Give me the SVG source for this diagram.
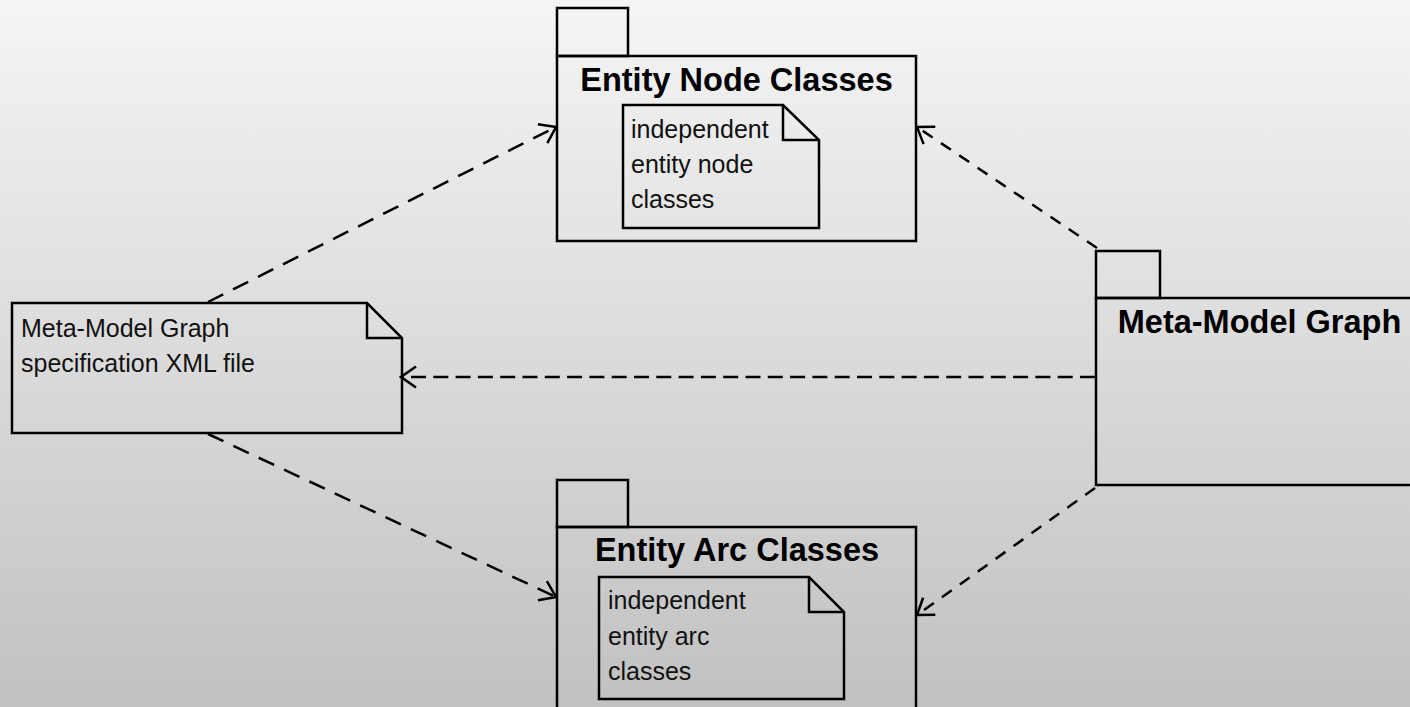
<svg xmlns="http://www.w3.org/2000/svg" width="1410" height="707" viewBox="0 0 1410 707">
  <defs>
    <linearGradient id="bg" x1="0" y1="0" x2="0" y2="1">
      <stop offset="0" stop-color="#f5f5f5"/>
      <stop offset="1" stop-color="#c1c1c1"/>
    </linearGradient>
    <marker id="open" markerUnits="userSpaceOnUse" viewBox="-18 -12 20 24" refX="0" refY="0" markerWidth="20" markerHeight="24" orient="auto">
      <path d="M-15,-10.5 L0,0 L-15,10.5" fill="none" stroke="#000" stroke-width="2.5"/>
    </marker>
    <style>
      .box { fill: none; stroke: #000; stroke-width: 2.5; }
      .dep { fill: none; stroke: #000; stroke-width: 2.5; marker-end: url(#open); }
      .title { font-family: "Liberation Sans", Arial, sans-serif; font-weight: bold; font-size: 32.5px; fill: #000; text-anchor: middle; }
      .body { font-family: "Liberation Sans", Arial, sans-serif; font-size: 25px; fill: #111; }
    </style>
  </defs>

  <rect x="0" y="0" width="1410" height="707" fill="url(#bg)"/>

  <!-- package: Entity Node Classes -->
  <g id="pkg-entity-node">
    <rect class="box" x="557" y="8" width="71" height="48"/>
    <rect class="box" x="557" y="56" width="359" height="185"/>
    <text class="title" x="736.5" y="91">Entity Node Classes</text>
    <g id="note-entity-node">
      <path class="box" d="M623,105 H783 L819,140 V228 H623 Z"/>
      <path class="box" d="M783,105 V140 H819"/>
      <text class="body" x="631" y="138">independent</text>
      <text class="body" x="631" y="173">entity node</text>
      <text class="body" x="631" y="208">classes</text>
    </g>
  </g>

  <!-- package: Entity Arc Classes -->
  <g id="pkg-entity-arc">
    <rect class="box" x="557" y="480" width="71" height="47"/>
    <rect class="box" x="557" y="527" width="359" height="200"/>
    <text class="title" x="737" y="561">Entity Arc Classes</text>
    <g id="note-entity-arc">
      <path class="box" d="M599,577 H809 L844,612 V699 H599 Z"/>
      <path class="box" d="M809,577 V612 H844"/>
      <text class="body" x="608" y="609">independent</text>
      <text class="body" x="608" y="645">entity arc</text>
      <text class="body" x="608" y="680">classes</text>
    </g>
  </g>

  <!-- package: Meta-Model Graph -->
  <g id="pkg-meta-model">
    <rect class="box" x="1096" y="251" width="64" height="47"/>
    <rect class="box" x="1096" y="298" width="330" height="187"/>
    <text class="title" x="1259.5" y="333">Meta-Model Graph</text>
  </g>

  <!-- note: specification file -->
  <g id="note-spec">
    <path class="box" d="M12,303 H367 L402,338 V433 H12 Z"/>
    <path class="box" d="M367,303 V338 H402"/>
    <text class="body" x="21" y="337">Meta-Model Graph</text>
    <text class="body" x="21" y="372">specification XML file</text>
  </g>

  <!-- dependencies -->
  <g id="connectors">
    <line class="dep" x1="208" y1="302" x2="556" y2="127" stroke-dasharray="17 11"/>
    <line class="dep" x1="208" y1="434" x2="556" y2="597" stroke-dasharray="17 11"/>
    <line class="dep" x1="1095" y1="377" x2="401" y2="377" stroke-dasharray="15 7.3"/>
    <line class="dep" x1="1097" y1="248" x2="917" y2="127" stroke-dasharray="12 10"/>
    <line class="dep" x1="1095" y1="488" x2="917" y2="615" stroke-dasharray="12 10"/>
  </g>
</svg>
